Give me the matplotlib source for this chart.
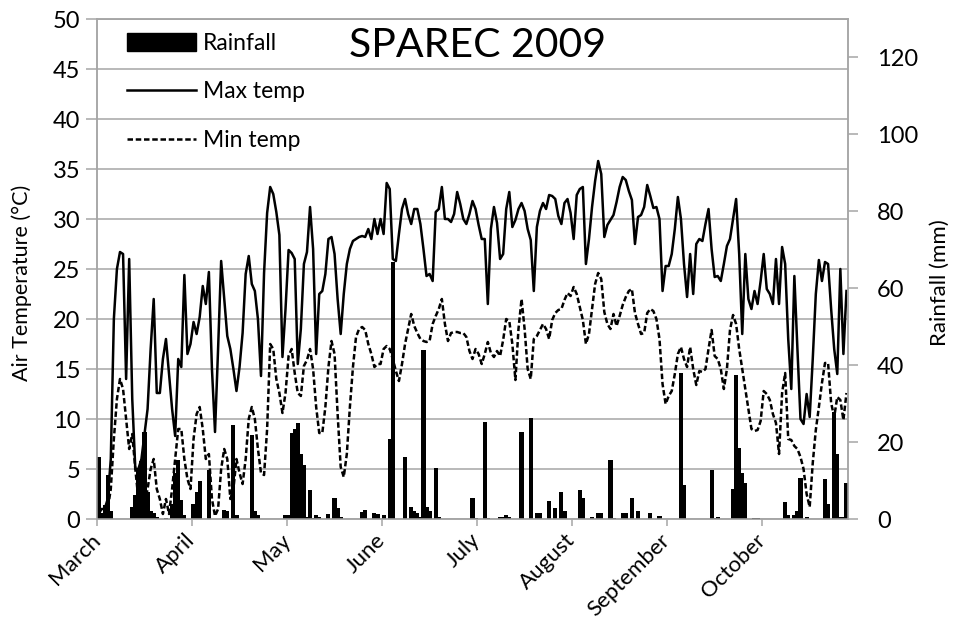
import numpy as np
import matplotlib
matplotlib.use('Agg')
import matplotlib.pyplot as plt
from matplotlib.patches import Patch
from matplotlib.lines import Line2D

plt.rcParams['font.family'] = ['Lato', 'DejaVu Sans']

months = ['March', 'April', 'May', 'June', 'July', 'August', 'September', 'October']
month_days = [31, 30, 31, 30, 31, 31, 30, 31]

# Daily maximum air temperature (°C)
max_mar = [0.5, 1, 1, 2, 6, 20, 25, 26.7, 26.5, 14, 26, 12, 5, 5, 6, 8.5, 11, 17, 22, 12.6,
           12.6, 16, 18, 14.5, 11, 8.3, 16, 15.2, 24.4, 16.5, 17.5]
max_apr = [19.7, 18.5, 20.2, 23.3, 21.5, 24.7, 15, 8.7, 17, 25.8, 22, 18.3, 17, 15, 12.8,
           15.2, 18.6, 24.5, 26.3, 23.5, 22.8, 20, 14.3, 24.6, 30.6, 33.2, 32.5, 30.7, 28.4, 16.2]
max_may = [21, 26.9, 26.6, 26, 15.5, 19, 25.5, 26.7, 31.2, 27, 16.5, 22.5, 22.8, 24.5, 28, 28.2,
           26.5, 22, 18.5, 22.5, 25.5, 27, 27.8, 28, 28.2, 28.3, 28.2, 29, 28, 30, 28.5]
max_jun = [30, 28.5, 33.6, 33, 26, 25.8, 28.5, 31, 32, 30.5, 29.5, 31, 31, 29.5, 27, 24.3, 24.5,
           23.8, 30.7, 31, 33.2, 30, 30, 29.7, 30.5, 32.7, 31.5, 30, 29.5, 30.5]
max_jul = [31.8, 31, 29.4, 28, 28, 21.5, 29, 31.2, 29.6, 26, 26.5, 31, 32.7, 29.2, 29.9, 31, 31.6,
           30.8, 29, 27.9, 22.8, 29.2, 30.8, 31.6, 31, 32.4, 32.3, 32, 30.3, 29.5, 31.6]
max_aug = [32, 30.6, 28, 32.4, 33, 33.2, 25.5, 28, 31.2, 33.8, 35.8, 34.5, 28.2, 29.4, 29.9, 30.4,
           31.7, 33.2, 34.2, 33.9, 32.8, 31.9, 27.5, 30.2, 30.4, 31.2, 33.4, 32.3, 31.1, 31.2, 30]
max_sep = [22.8, 25.3, 25.3, 26.5, 29, 32.2, 30, 25.5, 22.2, 26.5, 22.5, 27.5, 28, 27.8, 29.5, 31,
           27, 24.2, 24.3, 23.8, 25.5, 27.3, 28, 30, 32, 26.5, 18.5, 26.5, 22, 21]
max_oct = [22.8, 21.5, 23.8, 26.5, 23, 22.5, 21.5, 26, 21.5, 27.2, 25.5, 18, 13, 24.3, 17, 10, 9.5,
           12.5, 10.2, 16, 22.5, 25.9, 23.8, 25.7, 25.5, 21, 17, 14.5, 25, 16.5, 22.8]

# Daily minimum air temperature (°C)
min_mar = [0, 0, 0.5, 1, 3, 8, 12, 14, 13, 10, 7, 8.5, 5, 2, 1, 1.5, 3, 5, 6, 3, 2, 0.5, 2, 0.5,
           3, 6, 9, 9, 6, 4, 3]
min_apr = [8, 10.5, 11.2, 9, 6, 6.5, 2, 0.3, 1, 5, 7, 6, 2, 3, 6, 4.6, 3.5, 6, 10, 11.2, 10, 7,
           4.6, 4.4, 9, 17.5, 17, 14, 12.6, 10.6]
min_may = [12.6, 16.3, 17, 14.6, 12.6, 12.3, 15.3, 15.9, 17, 15, 11.2, 8.6, 8.6, 11.2, 15.2, 17.8,
           16.5, 10.5, 5.2, 4.2, 6.5, 11.2, 15.2, 18.2, 19, 19.2, 18.9, 17.5, 16.5, 15.2, 15.5]
min_jun = [15.5, 17, 17.3, 17, 16, 14.8, 13.8, 15.5, 17.5, 19, 20.5, 19.3, 18.6, 18, 17.8, 17.7,
           17.8, 19.5, 20.3, 21, 22, 19.5, 17.8, 18.6, 18.7, 18.7, 18.6, 18.6, 18.2, 16.8]
min_jul = [16, 17, 16.5, 15.5, 16.5, 17.7, 16.6, 16.2, 16.8, 16.3, 17.9, 20, 19.8, 17.5, 13.9, 19,
           22, 19, 15, 14, 18, 18.3, 18.9, 19.5, 19, 18, 19.9, 20.6, 20.9, 21, 21.9]
min_aug = [22.6, 22.3, 23.2, 22.5, 21.2, 19.9, 17.5, 18.5, 21, 23.5, 24.6, 24, 20.7, 19.5, 19,
           20.5, 19.3, 20.3, 21.4, 22.2, 22.8, 23, 20.6, 19.5, 18.5, 18.6, 20.6, 21, 20.8, 20, 18]
min_sep = [13.5, 11.5, 12.3, 12.8, 14.5, 16.5, 17.2, 16, 15.2, 17.2, 15, 13.4, 14.8, 14.7, 15, 17,
           18.9, 16.3, 16, 15, 13, 15, 18.9, 20.4, 19.5, 17, 15, 13, 11, 9]
min_oct = [8.8, 8.9, 9.8, 12.8, 12.5, 11.9, 10.5, 9.6, 6.5, 12.6, 14.6, 8, 7.9, 7.3, 7, 6.2, 5,
           2.5, 1.2, 5.6, 8.9, 11.2, 13.6, 15.6, 15.6, 11.6, 10.2, 12.2, 11.9, 9.9, 12.6]

# Daily rainfall (mm)
rain_mar = [16, 1.5, 3.6, 11.4, 2, 0, 0, 0, 0, 0, 0, 3, 6.2, 13, 15, 22.7, 7, 2, 1.5, 0.5, 0, 0,
            0.3, 0, 4, 12, 15.3, 5, 1, 0, 0]
rain_apr = [4, 7, 10, 0, 0, 12.7, 0, 0, 0, 0, 2.3, 2, 0, 24.4, 1, 0, 0, 0, 0, 21.8, 2, 1, 0, 0,
            0, 0, 0, 0, 0, 0]
rain_may = [1, 1, 22.4, 23.5, 25, 17, 14, 0.5, 7.5, 0.3, 1, 0.5, 0, 0, 1.3, 0, 5.4, 2.8, 0.5, 0,
            0, 0, 0, 0, 0, 1.8, 2.3, 0, 0, 1.5, 1.3]
rain_jun = [0, 1, 0, 20.8, 66.7, 0, 0, 0, 16.2, 0, 3.2, 2, 1.5, 0.5, 43.9, 3.2, 2, 0, 13.2, 0.5,
            0, 0, 0, 0, 0, 0, 0, 0, 0, 0]
rain_jul = [5.4, 0.3, 0, 0, 25.3, 0.3, 0, 0, 0, 0.5, 0.5, 1, 0.5, 0, 0, 0, 22.7, 0, 0, 26.3, 0,
            1.5, 1.5, 0, 0, 4.7, 0, 2.8, 0, 7.1, 2]
rain_aug = [0, 0, 0, 0, 7.5, 5.4, 0, 0, 0.5, 0, 1.5, 1.5, 0, 0, 15.3, 0.3, 0, 0, 1.5, 1.5, 0, 5.5,
            0, 2, 0, 0, 0, 1.5, 0, 0, 0.8]
rain_sep = [0, 0, 0, 0, 0, 0, 37.9, 8.8, 0, 0, 0, 0, 0, 0, 0, 0, 12.7, 0.3, 0.5, 0, 0, 0, 0, 7.8,
            37.4, 18.5, 11.9, 9.3, 0, 0]
rain_oct = [0.3, 0.3, 0, 0, 0, 0, 0, 0, 0, 0, 4.3, 1, 0, 1, 2, 10.6, 0, 0.5, 0, 0, 0, 0, 0, 10.4,
            4, 0, 27.8, 17, 0.5, 0.5, 9.3]

tmax = np.concatenate([max_mar, max_apr, max_may, max_jun, max_jul, max_aug, max_sep, max_oct])
tmin = np.concatenate([min_mar, min_apr, min_may, min_jun, min_jul, min_aug, min_sep, min_oct])
rain = np.concatenate([rain_mar, rain_apr, rain_may, rain_jun, rain_jul, rain_aug, rain_sep, rain_oct])
n = int(sum(month_days))
x = np.arange(n) + 0.5

grey = '#A6A6A6'
W, H = 955, 642
fig = plt.figure(figsize=(W / 100, H / 100), dpi=100)
L, R, T, B = 97, 848, 19, 519
ax = fig.add_axes([L / W, 1 - B / H, (R - L) / W, (B - T) / H])
ax2 = ax.twinx()

# Temperature lines
ax.plot(x, tmax, color='black', lw=1.8, solid_joinstyle='round')
ax.plot(x, tmin, color='black', lw=1.8, linestyle=(0, (2.2, 1.1)))
ax.set_xlim(0, n)
ax.set_ylim(0, 50)
ax.set_yticks(np.arange(0, 51, 5))
ax.grid(axis='y', color=grey, lw=1.1)
ax.set_axisbelow(True)

# Rainfall bars
ax2.bar(x, rain, width=1.35, color='black', linewidth=0)
ax2.set_ylim(0, 130)
ax2.set_yticks(np.arange(0, 121, 20))
ax2.set_xlim(0, n)

# Month ticks every 31 days
ticks = [31 * i for i in range(len(months))]
ax.set_xticks(ticks)
ax.set_xticklabels(months, rotation=45, ha='right', va='center', rotation_mode='anchor')

for a in (ax, ax2):
    for s in a.spines.values():
        s.set_color(grey)
        s.set_linewidth(1.1)
ax.tick_params(axis='y', direction='out', length=8, width=1.1, color=grey, labelsize=17, pad=4)
ax.tick_params(axis='x', direction='out', length=5, width=1.1, color=grey, labelsize=16, pad=8)
ax2.tick_params(axis='y', direction='out', length=7, width=1.1, color=grey, labelsize=17, pad=14)

ax.set_ylabel('Air Temperature (°C)', fontsize=15.5, va='center')
ax.yaxis.set_label_coords((22 - L) / (R - L), (B - 283) / (B - T))
ax2.set_ylabel('Rainfall (mm)', fontsize=16, va='center', rotation=90)
ax2.yaxis.set_label_coords((940 - L) / (R - L), (B - 283) / (B - T))

ax.text((478 - L) / (R - L), (B - 57) / (B - T), 'SPAREC 2009', transform=ax.transAxes,
        ha='center', va='baseline', fontsize=29.5)

handles = [Patch(facecolor='black', edgecolor='black'),
           Line2D([], [], color='black', lw=1.8),
           Line2D([], [], color='black', lw=1.8, linestyle=(0, (2.2, 1.1)))]
ax2.legend(handles, ['Rainfall', 'Max temp', 'Min temp'], loc='upper left',
           bbox_to_anchor=((127 - L) / (R - L), (B - 33) / (B - T)), frameon=False,
           fontsize=16.5, handlelength=3.0, handleheight=0.8, handletextpad=0.3,
           labelspacing=1.2, borderaxespad=0, borderpad=0)

fig.savefig('out.png', dpi=100)
